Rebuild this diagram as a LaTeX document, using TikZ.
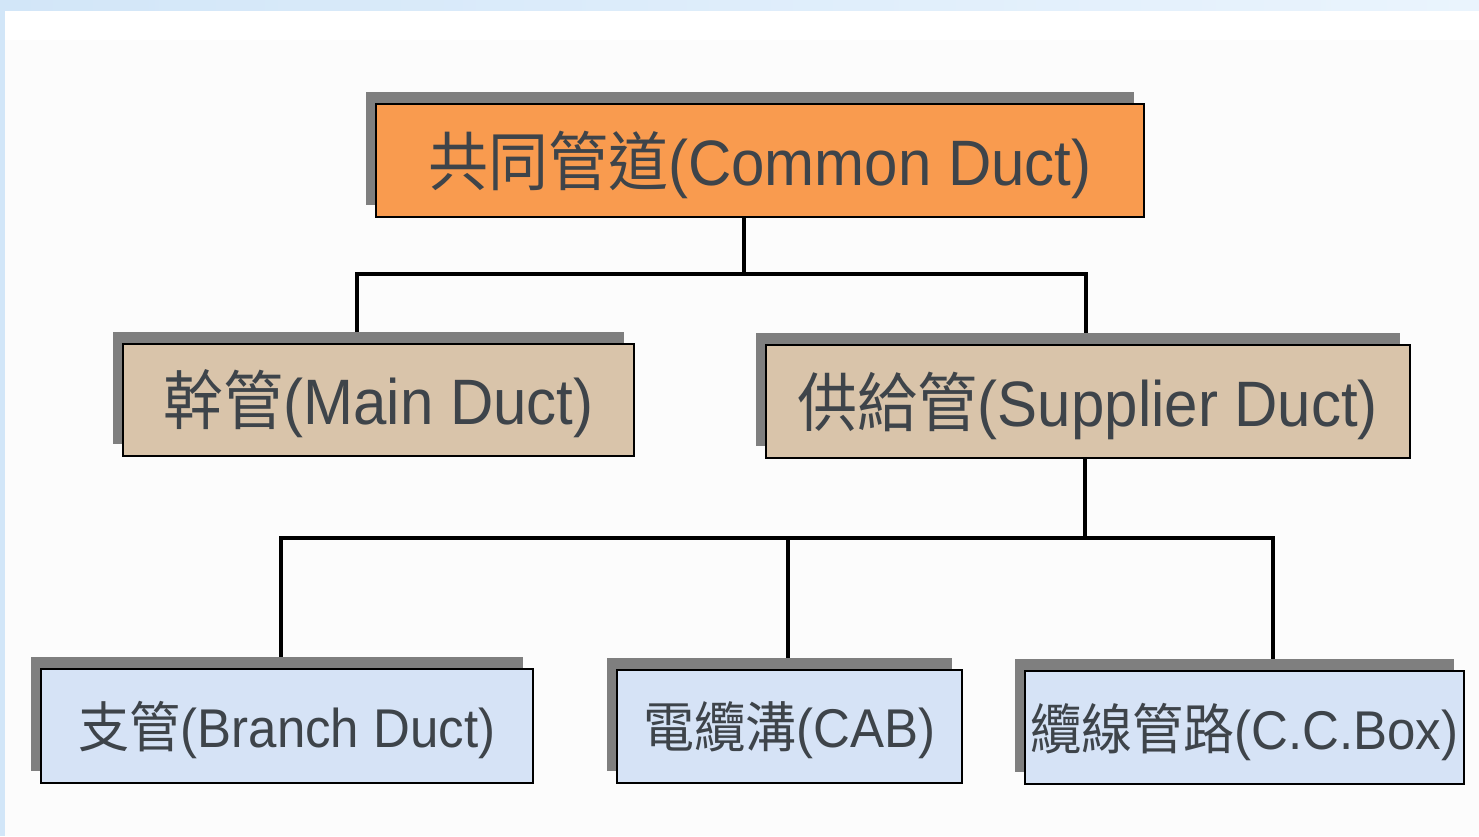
\documentclass[tikz,border=0pt]{standalone}
\usepackage{fontspec}
\setmainfont{Liberation Sans}
\newfontfamily\cjk{Noto Sans CJK TC}
\usetikzlibrary{shadows,backgrounds}
\pgfdeclarelayer{pagelayer}
\pgfsetlayers{pagelayer,background,main}
\definecolor{bandblue}{HTML}{D2E6F8}
\definecolor{bandblueB}{HTML}{EAF4FD}
\definecolor{pagebg}{HTML}{FCFCFC}
\definecolor{orangefill}{HTML}{F99B4F}
\definecolor{tanfill}{HTML}{D9C4AA}
\definecolor{bluefill}{HTML}{D6E3F6}
\definecolor{shadowgray}{HTML}{7F7F7F}
\definecolor{txtgray}{HTML}{3E444A}
\newcommand{\boxtext}[2]{\raisebox{-4pt}[\height][\depth]{\scalebox{1}[1.07]{{\cjk #1}#2}}}
\tikzset{
  boxbase/.style={draw=black, line width=2pt, inner sep=0pt, text=txtgray,
    general shadow={fill=shadowgray, shadow xshift=-10pt, shadow yshift=12pt}},
  topbox/.style={boxbase, fill=orangefill, font=\fontsize{60}{70}\selectfont},
  midbox/.style={boxbase, fill=tanfill, font=\fontsize{60}{70}\selectfont},
  lowbox/.style={boxbase, fill=bluefill, font=\fontsize{51}{60}\selectfont},
  conn/.style={draw=black, line width=3.5pt}
}
\begin{document}
\begin{tikzpicture}[x=1pt,y=-1pt]
% page background
\begin{pgfonlayer}{pagelayer}
\fill[pagebg] (0,0) rectangle (1479,836);
\fill[white] (5,10) rectangle (1479,40);
\shade[left color=bandblue, right color=bandblueB] (0,0) rectangle (1479,10);
\fill[bandblue] (0,0) rectangle (5,836);
\end{pgfonlayer}
\useasboundingbox (0,0) rectangle (1479,836);

% boxes
\node[topbox, minimum width=768pt, minimum height=113pt] (cd) at (760,160.5)
  {\boxtext{共同管道}{(Common Duct)}};
\node[midbox, minimum width=511pt, minimum height=112pt] (md) at (378.5,400)
  {\boxtext{幹管}{(Main Duct)}};
\node[midbox, minimum width=644pt, minimum height=113pt] (sd) at (1088,401.5)
  {\boxtext{供給管}{(Supplier Duct)}};
\node[lowbox, minimum width=492pt, minimum height=114pt] (bd) at (287,726)
  {\boxtext{支管}{(Branch Duct)}};
\node[lowbox, minimum width=345pt, minimum height=113pt] (cab) at (789.5,726.5)
  {\boxtext{電纜溝}{(CAB)}};
\node[lowbox, minimum width=439pt, minimum height=113pt] (ccb) at (1244.5,727.5)
  {\boxtext{纜線管路}{(C.C.Box)}};

% connectors
\begin{scope}[on background layer]
\coordinate (j1) at (744,274);
\coordinate (j2) at (1085,538);
\draw[conn] (cd.south -| j1) -- (j1);
\draw[conn] (357,0 |- md.north) |- (j1) -| (1086,0 |- sd.north);
\draw[conn] (sd.south -| j2) -- (j2);
\draw[conn] (281,0 |- bd.north) |- (j2) -| (1273,0 |- ccb.north);
\draw[conn] (788,0 |- cab.north) -- (788,538);
\end{scope}
\end{tikzpicture}
\end{document}
